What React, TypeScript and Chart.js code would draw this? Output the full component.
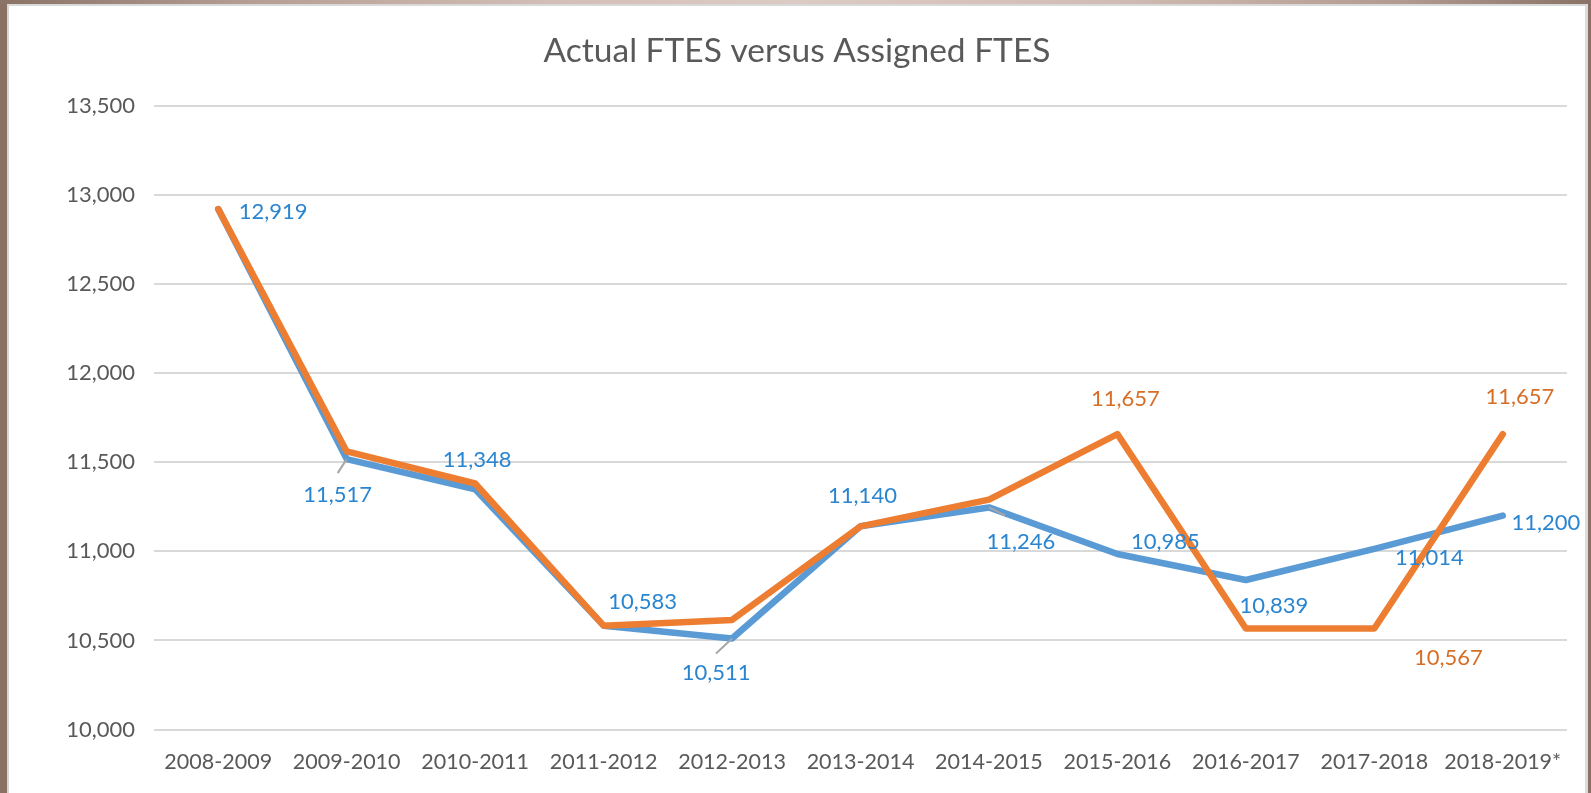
import React, { useEffect, useRef } from "react";
import { Chart, registerables } from "chart.js";

Chart.register(...registerables);

const chartTitle = "Actual FTES versus Assigned FTES";
const categories = [
  "2008-2009",
  "2009-2010",
  "2010-2011",
  "2011-2012",
  "2012-2013",
  "2013-2014",
  "2014-2015",
  "2015-2016",
  "2016-2017",
  "2017-2018",
  "2018-2019*",
];
const actualFTES = [12919, 11517, 11348, 10583, 10511, 11140, 11246, 10985, 10839, 11014, 11200];
const assignedFTES = [12919, 11560, 11380, 10583, 10615, 11140, 11290, 11657, 10567, 10567, 11657];
const yMin = 10000;
const yMax = 13500;
const yStep = 500;

// label placement (pixel offsets from each point), null = no label
const actualLabelOffsets: ([number, number] | null)[] = [
  [55, 3], [-9, 36], [2, -29], [39, -24], [-16, 34], [2, -30], [32, 34], [48, -12], [28, 26], [55, 9], [43, 7],
];
const actualLeaders: ([number, number] | null)[] = [
  null, [-9, 14], null, null, [-16, 15], null, [16, 8], null, null, null, null,
];
const assignedLabelOffsets: ([number, number] | null)[] = [
  null, null, null, null, null, null, null, [8, -35], null, [74, 29], [17, -37],
];

const FONT = "Lato, 'Open Sans', sans-serif";
const fmt = (v: number) => v.toLocaleString("en-US");

const labelPlugin = {
  id: "valueLabels",
  afterDatasetsDraw(chart: any) {
    const ctx = chart.ctx;
    const styles = [
      { color: "#2a85d0", offsets: actualLabelOffsets, leaders: actualLeaders },
      { color: "#d66e27", offsets: assignedLabelOffsets, leaders: [] as any[] },
    ];
    ctx.save();
    ctx.font = `22px ${FONT}`;
    ctx.textAlign = "center";
    ctx.textBaseline = "middle";
    chart.data.datasets.forEach((ds: any, di: number) => {
      const meta = chart.getDatasetMeta(di);
      const st = styles[di];
      meta.data.forEach((pt: any, i: number) => {
        const off = st.offsets[i];
        if (!off) return;
        const { x, y } = pt.getProps(["x", "y"], true);
        const lead = st.leaders[i];
        if (lead) {
          ctx.strokeStyle = "#a6a6a6";
          ctx.lineWidth = 2;
          ctx.beginPath();
          ctx.moveTo(x, y);
          ctx.lineTo(x + lead[0], y + lead[1]);
          ctx.stroke();
        }
        ctx.fillStyle = st.color;
        ctx.fillText(fmt(ds.data[i]), x + off[0], y + off[1]);
      });
    });
    ctx.restore();
  },
};

export default function App() {
  const canvasRef = useRef<HTMLCanvasElement | null>(null);

  useEffect(() => {
    document.body.style.margin = "0";
    const canvas = canvasRef.current;
    if (!canvas) return;
    const chart = new Chart(canvas, {
      type: "line",
      data: {
        labels: categories,
        datasets: [
          {
            label: "Actual FTES",
            data: actualFTES,
            borderColor: "#5b9bd5",
            backgroundColor: "#5b9bd5",
            borderWidth: 6.5,
            pointRadius: 0,
            pointHoverRadius: 0,
            tension: 0,
            borderCapStyle: "round",
            borderJoinStyle: "round",
            order: 1,
          },
          {
            label: "Assigned FTES",
            data: assignedFTES,
            borderColor: "#ed7d31",
            backgroundColor: "#ed7d31",
            borderWidth: 6.5,
            pointRadius: 0,
            pointHoverRadius: 0,
            tension: 0,
            borderCapStyle: "round",
            borderJoinStyle: "round",
            order: 0,
          },
        ],
      },
      options: {
        responsive: false,
        animation: false,
        devicePixelRatio: 1,
        layout: { padding: { left: 27, right: 24, top: 0, bottom: 0 } },
        plugins: {
          legend: { display: false },
          tooltip: { enabled: false },
          title: {
            display: true,
            text: chartTitle,
            color: "#595959",
            font: { family: FONT, size: 33.5, weight: "normal", lineHeight: 1.2 },
            padding: { top: 31, bottom: 34.3 },
          },
        },
        scales: {
          x: {
            type: "category",
            offset: true,
            grid: { display: false },
            border: { display: false },
            ticks: {
              color: "#595959",
              font: { family: FONT, size: 21.5 },
              padding: 12,
              maxRotation: 0,
              autoSkip: false,
            },
            afterFit: (scale: any) => {
              scale.height = 63.4;
            },
          },
          y: {
            min: yMin,
            max: yMax,
            grid: { color: "#d9d9d9", lineWidth: 2, drawTicks: false },
            border: { display: false },
            ticks: {
              stepSize: yStep,
              color: "#595959",
              font: { family: FONT, size: 22 },
              padding: 19,
              callback: (v: any) => fmt(Number(v)),
            },
            afterFit: (scale: any) => {
              scale.width = 127;
            },
          },
        },
      },
      plugins: [labelPlugin],
    } as any);
    return () => chart.destroy();
  }, []);

  return (
    <div
      style={{
        position: "fixed",
        left: 0,
        top: 0,
        width: 1591,
        height: 793,
        background: "#8a7065",
        overflow: "hidden",
      }}
    >
      <div
        style={{
          position: "absolute",
          left: 0,
          top: 0,
          width: 1591,
          height: 5,
          background:
            "linear-gradient(to right, #8b7267 0%, #b59c92 15%, #d2bfb7 35%, #dccbc4 50%, #d0bcb4 70%, #b39a90 88%, #8b7267 100%)",
        }}
      />
      <div
        style={{
          position: "absolute",
          left: 7,
          top: 4,
          width: 1581,
          height: 800,
          background: "#ffffff",
          boxSizing: "border-box",
          borderLeft: "2px solid #d6d6d6",
          borderTop: "2px solid #d9d9d9",
          borderRight: "3px solid #dcdcdc",
        }}
      />
      <canvas
        ref={canvasRef}
        width={1591}
        height={793}
        style={{ position: "absolute", left: 0, top: 0, width: 1591, height: 793 }}
      />
    </div>
  );
}
